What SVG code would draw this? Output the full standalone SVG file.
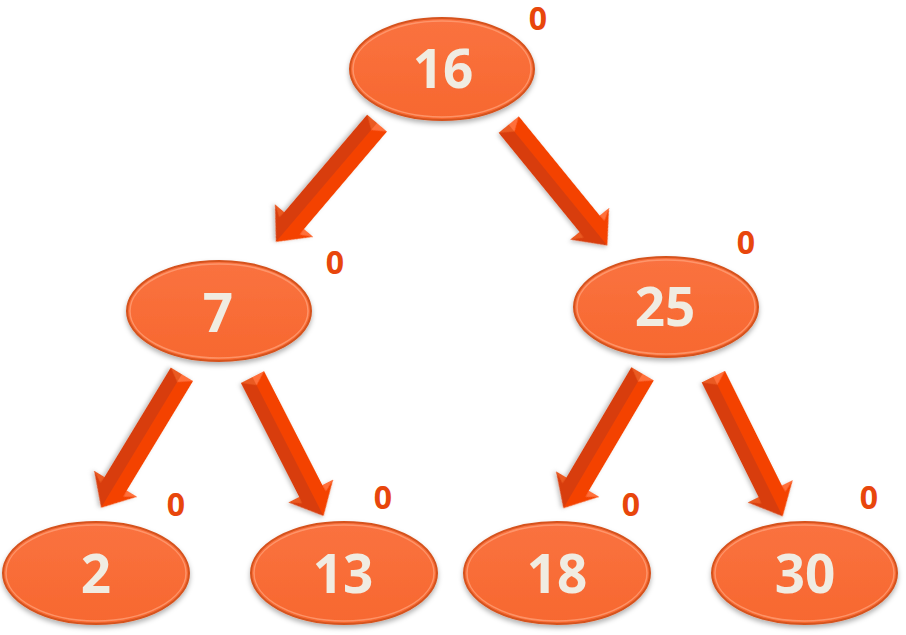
<svg xmlns="http://www.w3.org/2000/svg" xmlns:xlink="http://www.w3.org/1999/xlink" width="906" height="635" viewBox="0 0 906 635">
  <style>
    .node-shape { fill: url(#nodeFill); stroke: #d5521f; stroke-width: 2; filter: url(#shadow); }
    .node-rim { fill: none; stroke: #ffa27a; stroke-width: 1.5; opacity: 0.75; }
    .node-text { font-family: "Open Sans", "Liberation Sans", sans-serif; font-weight: bold; font-size: 53px; fill: #f0ece2; text-anchor: middle; }
    .bal { font-family: "Open Sans", "Liberation Sans", sans-serif; font-weight: bold; font-size: 32px; fill: #e8460c; text-anchor: middle; }
    .a-dark { fill: #d83c0a; }
    .a-light { fill: #f44300; }
    .a-facet { fill: #ff6f3a; }
    .a-facet2 { fill: #ea5a22; }
  </style>
  <defs>
    <linearGradient id="nodeFill" x1="0" y1="0" x2="0" y2="1">
      <stop offset="0" stop-color="#fa7240"/>
      <stop offset="1" stop-color="#f7682f"/>
    </linearGradient>
    <filter id="shadow" x="-20%" y="-20%" width="140%" height="150%">
      <feDropShadow dx="0" dy="3" stdDeviation="2.5" flood-color="#000" flood-opacity="0.3"/>
    </filter>
    <filter id="ashadow" x="-20%" y="-50%" width="140%" height="200%">
      <feDropShadow dx="1" dy="2" stdDeviation="2" flood-color="#000" flood-opacity="0.25"/>
    </filter>
    <g id="arrow" filter="url(#ashadow)">
      <path class="a-light" d="M-78,0 L-78,-13 L50,-13 L50,-25 L78,0 Z"/>
      <path class="a-dark" d="M-78,0 L-78,13 L50,13 L50,25 L78,0 Z"/>
      <path class="a-facet" d="M-78,-13 L-69,0 L-78,0 Z"/>
      <path class="a-facet2" d="M-78,13 L-69,0 L-78,0 Z"/>
      <path class="a-facet" d="M50,-25 L57,-13.5 L50,-13 Z"/>
      <path class="a-facet2" d="M50,25 L57,13.5 L50,13 Z"/>
    </g>
  </defs>

  <g id="connectors">
    <use xlink:href="#arrow" href="#arrow" transform="translate(326.5,182.5) rotate(130.4)"/>
    <use xlink:href="#arrow" href="#arrow" transform="translate(558,185) rotate(50.8)"/>
    <use xlink:href="#arrow" href="#arrow" transform="translate(141.5,441) rotate(121.2)"/>
    <use xlink:href="#arrow" href="#arrow" transform="translate(288,446.5) rotate(62.9)"/>
    <use xlink:href="#arrow" href="#arrow" transform="translate(603,441) rotate(120.5)"/>
    <use xlink:href="#arrow" href="#arrow" transform="translate(748,446.5) rotate(63.6)"/>
  </g>

  <g id="node-16">
    <ellipse class="node-shape" cx="442" cy="69" rx="92" ry="51"/>
    <ellipse class="node-rim" cx="442" cy="69" rx="89" ry="48"/>
    <text class="node-text" x="443" y="88">16</text>
    <text class="bal" x="538" y="30">0</text>
  </g>
  <g id="node-7">
    <ellipse class="node-shape" cx="219" cy="311" rx="92" ry="50"/>
    <ellipse class="node-rim" cx="219" cy="311" rx="89" ry="47"/>
    <text class="node-text" x="218" y="332">7</text>
    <text class="bal" x="335" y="274">0</text>
  </g>
  <g id="node-25">
    <ellipse class="node-shape" cx="666" cy="307" rx="92" ry="50"/>
    <ellipse class="node-rim" cx="666" cy="307" rx="89" ry="47"/>
    <text class="node-text" x="665" y="326">25</text>
    <text class="bal" x="746" y="254">0</text>
  </g>
  <g id="node-2">
    <ellipse class="node-shape" cx="96" cy="573" rx="93" ry="51"/>
    <ellipse class="node-rim" cx="96" cy="573" rx="90" ry="48"/>
    <text class="node-text" x="96" y="593">2</text>
    <text class="bal" x="176" y="516">0</text>
  </g>
  <g id="node-13">
    <ellipse class="node-shape" cx="344" cy="573" rx="93" ry="51"/>
    <ellipse class="node-rim" cx="344" cy="573" rx="90" ry="48"/>
    <text class="node-text" x="343" y="593">13</text>
    <text class="bal" x="383" y="509">0</text>
  </g>
  <g id="node-18">
    <ellipse class="node-shape" cx="557" cy="573" rx="93" ry="51"/>
    <ellipse class="node-rim" cx="557" cy="573" rx="90" ry="48"/>
    <text class="node-text" x="557" y="593">18</text>
    <text class="bal" x="631" y="516">0</text>
  </g>
  <g id="node-30">
    <ellipse class="node-shape" cx="804.5" cy="573" rx="92.5" ry="51"/>
    <ellipse class="node-rim" cx="804.5" cy="573" rx="89.5" ry="48"/>
    <text class="node-text" x="805" y="593">30</text>
    <text class="bal" x="869" y="509">0</text>
  </g>
</svg>
